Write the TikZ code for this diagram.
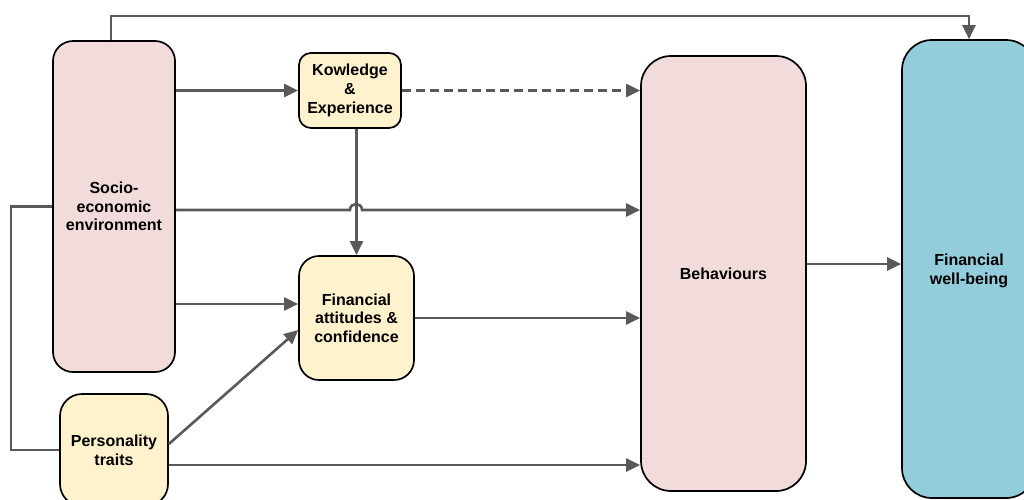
\documentclass[tikz,border=0pt]{standalone}
\usepackage{fontspec}
\setmainfont{Liberation Sans}
\usetikzlibrary{arrows.meta}
\definecolor{pinkfill}{HTML}{F2DCDB}
\definecolor{yellowfill}{HTML}{FFF2CC}
\definecolor{bluefill}{HTML}{93CDDC}
\definecolor{linegray}{HTML}{595959}
\tikzset{
  box/.style={draw=black, line width=1.7pt, align=center, font=\fontsize{16}{18.7}\selectfont\bfseries, inner sep=0pt},
  pinkbox/.style={box, fill=pinkfill},
  yellowbox/.style={box, fill=yellowfill},
  bluebox/.style={box, fill=bluefill},
  conn/.style={draw=linegray, line width=2.6pt},
  arr/.style={conn, -{Triangle[length=14pt, width=13pt]}},
}
\begin{document}
\begin{tikzpicture}[x=1pt, y=-1pt]
\clip (0,0) rectangle (1024,499);
\fill[white] (0,0) rectangle (1024,499);
% nodes
\node[pinkbox, rounded corners=20pt, minimum width=122pt, minimum height=331pt] (socio) at (114,206.5) {Socio-\\economic\\environment};
\node[yellowbox, rounded corners=12pt, minimum width=102pt, minimum height=75pt] (know) at (350,90.5) {Kowledge\\\&\\Experience};
\node[yellowbox, rounded corners=20pt, minimum width=115pt, minimum height=124pt] (att) at (356.5,318) {Financial\\attitudes \&\\confidence};
\node[yellowbox, rounded corners=22pt, minimum width=108pt, minimum height=112pt] (pers) at (114,450) {Personality\\traits};
\node[pinkbox, rounded corners=30pt, minimum width=165pt, minimum height=435pt] (beh) at (723.5,273.5) {Behaviours};
\node[bluebox, rounded corners=30pt, minimum width=134pt, minimum height=458pt, text depth=-4pt] (wb) at (969,269) {Financial\\well-being};
% helper coordinates
\coordinate (topy) at (0,16);
\coordinate (lx) at (11,0);
\coordinate (hopL) at (350,210);
\coordinate (hopR) at (362,210);
\coordinate (y304) at (0,304);
\coordinate (y264) at (0,264);
% connectors
\draw[arr] ([xshift=-3pt]socio.north) -- ([xshift=-3pt]socio.north |- topy) -| (wb.north);
\draw[arr] (socio.east |- know.west) -- (know.west);
\draw[arr, dash pattern=on 9pt off 5pt] (know.east) -- (know.east -| beh.west);
\draw[arr] (att.north |- know.south) -- (att.north);
\draw[arr] (socio.east |- hopL) -- (hopL) .. controls (350,202) and (362,202) .. (hopR) -- (hopR -| beh.west);
\draw[arr] (socio.east |- y304) -- (att.west |- y304);
\draw[arr] (att.east) -- (att.east -| beh.west);
\draw[arr] ([yshift=6pt]pers.east) -- ([yshift=-12pt]att.west);
\draw[arr] ([yshift=-15pt]pers.east) -- ([yshift=-15pt]pers.east -| beh.west);
\draw[conn] (socio.west) -- (socio.west -| lx) |- (pers.west);
\draw[arr] (beh.east |- y264) -- (wb.west |- y264);
\end{tikzpicture}
\end{document}
